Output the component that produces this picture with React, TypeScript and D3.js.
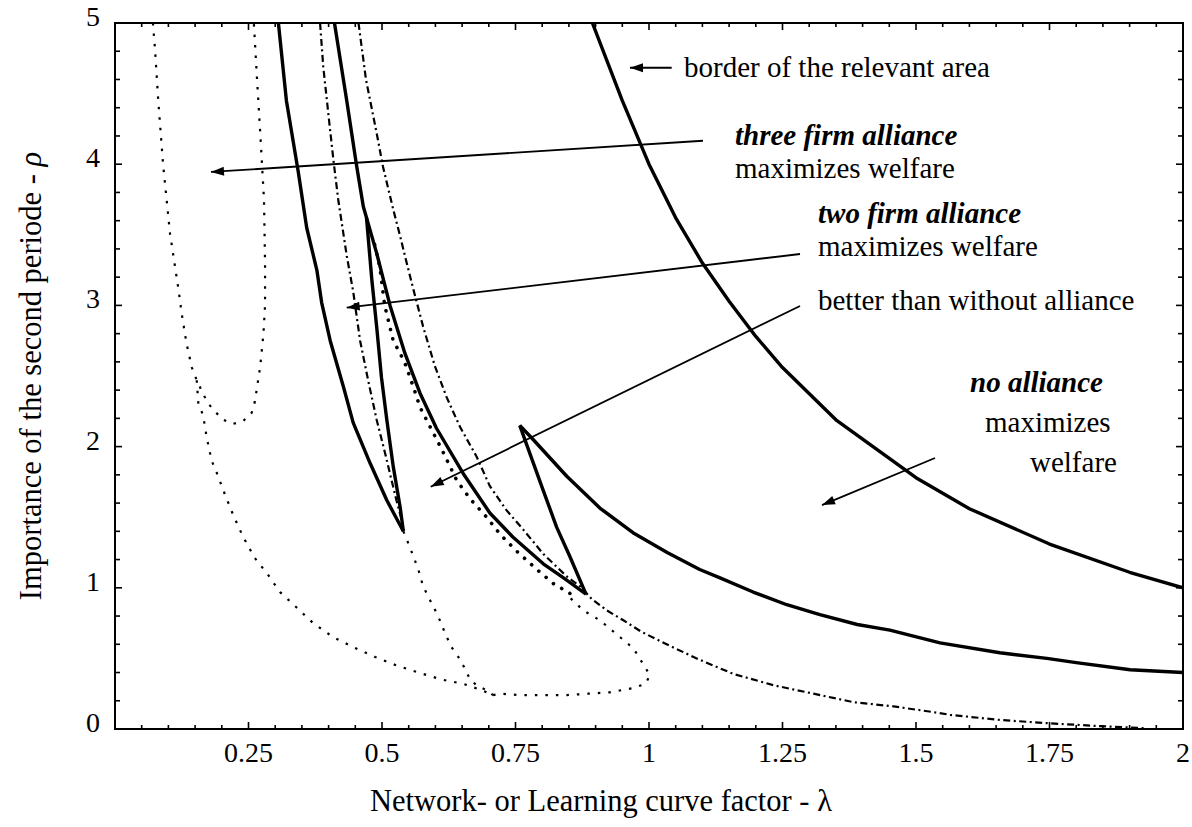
import React from "react";
import * as d3 from "d3";

const W = 1192;
const H = 827;

// ---- axis ----
const xTickLabels = ["0.25", "0.5", "0.75", "1", "1.25", "1.5", "1.75", "2"];
const xTickValues = [0.25, 0.5, 0.75, 1, 1.25, 1.5, 1.75, 2];
const yTickLabels = ["0", "1", "2", "3", "4", "5"];
const yTickValues = [0, 1, 2, 3, 4, 5];

// ---- solid curves ----
const borderCurve: number[][] = [
  [0.894, 5], [0.95, 4.45], [1.0, 4.0], [1.05, 3.62], [1.1, 3.3], [1.15, 3.03],
  [1.2, 2.78], [1.25, 2.56], [1.35, 2.19], [1.5, 1.78], [1.6, 1.56], [1.75, 1.31],
  [1.9, 1.11], [2.0, 1.0],
];
const noAllianceCurve: number[][] = [
  [0.758, 2.15], [0.783, 2.05], [0.846, 1.79], [0.908, 1.565], [0.97, 1.39],
  [1.034, 1.25], [1.095, 1.13], [1.133, 1.07], [1.195, 0.97], [1.258, 0.88],
  [1.32, 0.81], [1.39, 0.74], [1.451, 0.7], [1.545, 0.61], [1.657, 0.54],
  [1.745, 0.5], [1.8, 0.47], [1.901, 0.42], [2.0, 0.4],
];
const rightTriangleSide: number[][] = [
  [0.758, 2.15], [0.777, 1.95], [0.8, 1.71], [0.827, 1.43], [0.852, 1.22], [0.882, 0.955],
];
const middleCurve: number[][] = [
  [0.411, 5], [0.434, 4.45], [0.452, 4.0], [0.465, 3.7], [0.49, 3.37], [0.515, 3.0],
  [0.543, 2.66], [0.571, 2.38], [0.602, 2.13], [0.652, 1.81], [0.702, 1.53],
  [0.745, 1.36], [0.802, 1.17], [0.84, 1.07], [0.882, 0.955],
];
const leftOuterCurve: number[][] = [
  [0.306, 5], [0.321, 4.45], [0.343, 3.95], [0.359, 3.55], [0.378, 3.25], [0.387, 3.02],
  [0.403, 2.75], [0.428, 2.42], [0.446, 2.17], [0.478, 1.88], [0.509, 1.62], [0.54, 1.4],
];
const leftInnerCurve: number[][] = [
  [0.471, 3.62], [0.481, 3.18], [0.49, 2.85], [0.499, 2.49], [0.509, 2.19],
  [0.521, 1.86], [0.534, 1.57], [0.54, 1.4],
];

// ---- dotted curves ----
const uCurve: number[][] = [
  [0.071, 5], [0.075, 4.81], [0.081, 4.45], [0.09, 4.0], [0.103, 3.51], [0.119, 3.11],
  [0.125, 2.94], [0.134, 2.73], [0.144, 2.56], [0.153, 2.47], [0.172, 2.32],
  [0.184, 2.26], [0.203, 2.19], [0.22, 2.16], [0.24, 2.18], [0.256, 2.24],
  [0.262, 2.32], [0.268, 2.47], [0.272, 2.57], [0.278, 2.8], [0.281, 3.0],
  [0.281, 3.3], [0.279, 3.75], [0.272, 4.22], [0.266, 4.6], [0.26, 5],
];
const lowerLeftDotted: number[][] = [
  [0.153, 2.47], [0.156, 2.31], [0.165, 2.22], [0.172, 2.06], [0.181, 1.9], [0.19, 1.82],
  [0.206, 1.66], [0.222, 1.51], [0.24, 1.36], [0.262, 1.21], [0.287, 1.09], [0.309, 0.97],
  [0.343, 0.85], [0.371, 0.75], [0.409, 0.65], [0.446, 0.58], [0.487, 0.51], [0.527, 0.45],
  [0.568, 0.4], [0.612, 0.35], [0.652, 0.32], [0.683, 0.28], [0.708, 0.24],
];
const vertexDotted: number[][] = [
  [0.54, 1.4], [0.552, 1.29], [0.568, 1.13], [0.577, 1.01], [0.593, 0.89], [0.605, 0.8],
  [0.618, 0.68], [0.63, 0.58], [0.643, 0.51], [0.655, 0.43], [0.665, 0.35], [0.677, 0.31],
  [0.693, 0.28], [0.708, 0.24],
];
const loopDotted: number[][] = [
  [0.708, 0.24], [0.721, 0.25], [0.758, 0.24], [0.8, 0.24], [0.846, 0.24], [0.886, 0.25],
  [0.927, 0.26], [0.971, 0.29], [0.993, 0.32], [1.002, 0.38], [0.989, 0.46], [0.971, 0.57],
  [0.946, 0.65], [0.908, 0.77], [0.877, 0.84], [0.852, 0.93],
];
const heavyDotted: number[][] = [
  [0.852, 0.96], [0.821, 1.03], [0.79, 1.13], [0.752, 1.26], [0.721, 1.38], [0.696, 1.5],
  [0.665, 1.63], [0.64, 1.76], [0.612, 1.98], [0.59, 2.14], [0.571, 2.28], [0.559, 2.42],
  [0.543, 2.59], [0.534, 2.66], [0.521, 2.75], [0.505, 3.0], [0.496, 3.27], [0.485, 3.45],
];

// ---- dash-dot curves ----
const dashDotLeft: number[][] = [
  [0.384, 5], [0.39, 4.69], [0.4, 4.34], [0.409, 4.03], [0.418, 3.75], [0.434, 3.35],
  [0.446, 3.1], [0.459, 2.75], [0.474, 2.47], [0.49, 2.19], [0.506, 1.95], [0.518, 1.76],
  [0.527, 1.62], [0.537, 1.48], [0.54, 1.4],
];
const dashDotRight: number[][] = [
  [0.456, 5], [0.47, 4.6], [0.49, 4.22], [0.502, 3.98], [0.521, 3.68], [0.534, 3.49],
  [0.543, 3.35], [0.559, 3.11], [0.577, 2.85], [0.599, 2.57], [0.621, 2.35], [0.646, 2.14],
  [0.677, 1.93], [0.702, 1.72], [0.733, 1.55], [0.765, 1.41], [0.802, 1.24], [0.846, 1.08],
  [0.871, 1.01], [0.893, 0.92], [0.921, 0.84], [0.952, 0.77], [0.985, 0.69], [1.033, 0.6],
  [1.092, 0.495], [1.158, 0.39], [1.233, 0.31], [1.308, 0.25], [1.383, 0.19], [1.458, 0.16],
  [1.532, 0.12], [1.564, 0.1], [1.657, 0.064], [1.751, 0.04], [1.845, 0.02], [1.93, 0.005],
];

// ---- annotations (arrows in data units: from -> tip) ----
const arrowFrom: number[][] = [
  [1.0425, 4.683], [1.1011, 4.166], [1.2828, 3.364], [1.2828, 2.996], [1.5356, 1.919],
];
const arrowTip: number[][] = [
  [0.9644, 4.683], [0.1798, 3.945], [0.4339, 2.984], [0.5912, 1.716], [1.324, 1.586],
];
const labelTexts = [
  "border of the relevant area",
  "three firm alliance",
  "maximizes welfare",
  "two firm alliance",
  "maximizes welfare",
  "better than without alliance",
  "no alliance",
  "maximizes",
  "welfare",
];
const labelBold = [false, true, false, true, false, false, true, false, false];
const labelPos: number[][] = [
  [684, 77], [735, 145], [735, 178], [818, 223], [818, 256], [818, 310],
  [970, 392], [985, 432], [1030, 472],
];

const FONT = "'Liberation Serif', 'Times New Roman', serif";

export default function App() {
  const x = d3.scaleLinear().domain([0, 2]).range([115, 1183]);
  const y = d3.scaleLinear().domain([0, 5]).range([729, 23]);
  const line = d3
    .line<number[]>()
    .x((d) => x(d[0]))
    .y((d) => y(d[1]));

  const xMinor = d3.range(0, 41).map((i) => i * 0.05);
  const yMinor = d3.range(0, 26).map((i) => i * 0.2);

  const solid = { fill: "none", stroke: "#000", strokeWidth: 3.4, strokeLinejoin: "round" as const };
  const dotted = { fill: "none", stroke: "#000", strokeWidth: 2.2, strokeDasharray: "2.5 8" };
  const heavy = {
    fill: "none",
    stroke: "#000",
    strokeWidth: 3.6,
    strokeDasharray: "0.1 9.5",
    strokeLinecap: "round" as const,
  };
  const dashDot = { fill: "none", stroke: "#000", strokeWidth: 2.2, strokeDasharray: "7 3.5 2 3.5" };

  const arrowHead = (from: number[], tip: number[]) => {
    const fx = x(from[0]), fy = y(from[1]), tx = x(tip[0]), ty = y(tip[1]);
    const dx = tx - fx, dy = ty - fy;
    const len = Math.sqrt(dx * dx + dy * dy);
    const ux = dx / len, uy = dy / len;
    const L = 13, Wd = 4.5;
    const bx = tx - ux * L, by = ty - uy * L;
    return `${tx},${ty} ${bx - uy * Wd},${by + ux * Wd} ${bx + uy * Wd},${by - ux * Wd}`;
  };

  return (
    <svg
      width={W}
      height={H}
      style={{ position: "absolute", left: 0, top: 0, background: "#fff" }}
      fontFamily={FONT}
    >
      <rect x={0} y={0} width={W} height={H} fill="#fff" />
      <defs>
        <clipPath id="plot">
          <rect x={115} y={23} width={1068} height={706} />
        </clipPath>
      </defs>

      <g clipPath="url(#plot)">
        {[uCurve, lowerLeftDotted, vertexDotted, loopDotted].map((d, i) => (
          <path key={"dt" + i} d={line(d) || ""} {...dotted} />
        ))}
        <path d={line(heavyDotted) || ""} {...heavy} />
        {[dashDotLeft, dashDotRight].map((d, i) => (
          <path key={"dd" + i} d={line(d) || ""} {...dashDot} />
        ))}
        {[borderCurve, noAllianceCurve, rightTriangleSide, middleCurve, leftOuterCurve, leftInnerCurve].map(
          (d, i) => (
            <path key={"s" + i} d={line(d) || ""} {...solid} />
          )
        )}
      </g>

      {/* arrows */}
      {arrowFrom.map((f, i) => (
        <g key={"a" + i}>
          <line
            x1={x(f[0])}
            y1={y(f[1])}
            x2={x(arrowTip[i][0])}
            y2={y(arrowTip[i][1])}
            stroke="#000"
            strokeWidth={1.8}
          />
          <polygon points={arrowHead(f, arrowTip[i])} fill="#000" />
        </g>
      ))}

      {/* labels */}
      {labelTexts.map((t, i) => (
        <text
          key={"l" + i}
          x={labelPos[i][0]}
          y={labelPos[i][1]}
          fontSize={29}
          fontWeight={labelBold[i] ? "bold" : "normal"}
          fontStyle={labelBold[i] ? "italic" : "normal"}
        >
          {t}
        </text>
      ))}

      {/* frame */}
      <rect x={115} y={23} width={1068} height={706} fill="none" stroke="#000" strokeWidth={2} />

      {/* x ticks bottom & top */}
      {xMinor.map((v, i) => {
        const major = i % 5 === 0;
        const len = major ? 7 : 4;
        return (
          <g key={"xt" + i}>
            <line x1={x(v)} x2={x(v)} y1={729} y2={729 - len} stroke="#000" strokeWidth={1.6} />
            <line x1={x(v)} x2={x(v)} y1={23} y2={23 + len} stroke="#000" strokeWidth={1.6} />
          </g>
        );
      })}
      {/* y ticks left & right */}
      {yMinor.map((v, i) => {
        const major = i % 5 === 0;
        const len = major ? 7 : 5;
        return (
          <g key={"yt" + i}>
            <line x1={115} x2={115 + len} y1={y(v)} y2={y(v)} stroke="#000" strokeWidth={1.6} />
            <line x1={1183} x2={1183 - len} y1={y(v)} y2={y(v)} stroke="#000" strokeWidth={1.6} />
          </g>
        );
      })}

      {xTickValues.map((v, i) => (
        <text key={"xl" + i} x={x(v)} y={762} fontSize={28} textAnchor="middle">
          {xTickLabels[i]}
        </text>
      ))}
      {yTickValues.map((v, i) => (
        <text key={"yl" + i} x={100} y={y(v) + 3} fontSize={28} textAnchor="end">
          {yTickLabels[i]}
        </text>
      ))}

      <text x={601} y={811} fontSize={30.5} textAnchor="middle">
        Network- or Learning curve factor - λ
      </text>
      <text transform="translate(41,376) rotate(-90)" fontSize={30.5} textAnchor="middle">
        Importance of the second periode - <tspan fontStyle="italic">ρ</tspan>
      </text>
    </svg>
  );
}
